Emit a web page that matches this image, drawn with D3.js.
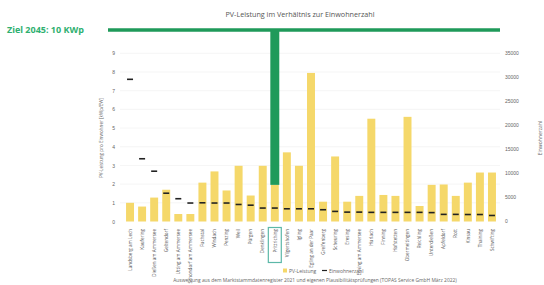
<!DOCTYPE html>
<html><head><meta charset="utf-8">
<script src="https://cdn.jsdelivr.net/npm/d3@7"></script>
<style>body{margin:0;background:#fff}svg{display:block;font-family:"Open Sans",Arial,sans-serif}</style>
</head><body><svg id="c" width="544" height="285"></svg>
<script>
const categories = ["Landsberg am Lech","Kaufering","Dießen am Ammersee","Geltendorf","Utting am Ammersee","Schondorf am Ammersee","Fuchstal","Windach","Penzing","Weil","Pürgen","Denklingen","Prittriching","Vilgertshofen","Igling","Egling an der Paar","Greifenberg","Scheuring","Eresing","Eching am Ammersee","Hurlach","Finning","Hofstetten","Obermeitingen","Reichling","Unterdießen","Apfeldorf","Rott","Kinsau","Thaining","Schwifting"];
const pvPerCapita = [1.0,0.8,1.28,1.7,0.4,0.4,2.08,2.68,1.66,2.98,1.39,2.98,1.96,3.7,2.98,7.95,1.06,3.48,1.06,1.37,5.5,1.42,1.37,5.6,0.83,1.96,1.98,1.37,2.08,2.62,2.62];
const population = [29500,12900,10300,5700,4550,3650,3700,3650,3650,3350,3200,2600,2600,2450,2450,2450,2250,1900,1750,1750,1700,1700,1700,1700,1700,1650,1280,1280,1250,1250,1050];
const leftTicks = [0,1,2,3,4,5,6,7,8,9];
const rightTicks = [0,5000,10000,15000,20000,25000,30000,35000];
const highlightIndex = 12;
const goalLabel = "Ziel 2045: 10 KWp";
const goalValue = 10;

const svg = d3.select("#c");
const green = "#1f9a5a", yellow = "#f5d86a";
const x = d3.scaleBand().domain(categories).range([124,498]).paddingInner(0.34).paddingOuter(0.17);
const yL = d3.scaleLinear().domain([0,9]).range([221.5,53.3]);
const yR = d3.scaleLinear().domain([0,35000]).range([220.5,53]);

svg.append("text").attr("x",300).attr("y",17).attr("text-anchor","middle").attr("font-size",7.2).attr("fill","#555").text("PV-Leistung im Verhältnis zur Einwohnerzahl");

// gridlines
svg.append("g").selectAll("line").data(leftTicks.slice(1)).join("line")
  .attr("x1",120).attr("x2",500).attr("y1",d=>yL(d)).attr("y2",d=>yL(d)).attr("stroke","#eeeeee").attr("stroke-width",0.6);

// left axis
const la = svg.append("g").attr("transform","translate(117,0)").call(d3.axisLeft(yL).tickValues(leftTicks).tickSize(0).tickPadding(2));
la.select(".domain").remove();
la.selectAll("text").attr("font-size",5).attr("fill","#666");
const ra = svg.append("g").attr("transform","translate(503,0)").call(d3.axisRight(yR).tickValues(rightTicks).tickSize(0).tickPadding(2).tickFormat(d3.format("d")));
ra.select(".domain").remove();
ra.selectAll("text").attr("font-size",5).attr("fill","#666");

svg.append("text").attr("transform","translate(103,138) rotate(-90)").attr("text-anchor","middle").attr("font-size",4.6).attr("fill","#666").text("PV-Leistung pro Einwohner [kWp/EW]");
svg.append("text").attr("transform","translate(542,138) rotate(-90)").attr("text-anchor","middle").attr("font-size",5).attr("fill","#666").text("Einwohnerzahl");

// bars
svg.append("g").selectAll("rect").data(categories).join("rect")
  .attr("x",d=>x(d)).attr("width",x.bandwidth())
  .attr("y",(d,i)=>yL(pvPerCapita[i])).attr("height",(d,i)=>yL(0)-yL(pvPerCapita[i]))
  .attr("fill",yellow);

// population dashes
svg.append("g").selectAll("line").data(categories).join("line")
  .attr("x1",d=>x(d)+x.bandwidth()/2-3).attr("x2",d=>x(d)+x.bandwidth()/2+3)
  .attr("y1",(d,i)=>yR(population[i])).attr("y2",(d,i)=>yR(population[i]))
  .attr("stroke","#222").attr("stroke-width",1.6);

// category labels
svg.append("g").selectAll("text").data(categories).join("text")
  .attr("transform",d=>`translate(${x(d)+x.bandwidth()/2+1.7},229) rotate(-90)`)
  .attr("text-anchor","end").attr("font-size",4.6).attr("fill","#555").text(d=>d);

// highlight box
const hc = categories[highlightIndex];
svg.append("rect").attr("x",x(hc)-2.5).attr("y",227.5).attr("width",x.bandwidth()+5).attr("height",35)
  .attr("fill","none").attr("stroke","#5cb8a8").attr("stroke-width",1.2);

// goal annotation
const gy = yL(goalValue+0.25);
svg.append("line").attr("x1",108).attr("x2",500).attr("y1",gy).attr("y2",gy).attr("stroke",green).attr("stroke-width",3.5);
svg.append("rect").attr("x",x(hc)-0.5).attr("y",gy).attr("width",x.bandwidth()+1).attr("height",yL(pvPerCapita[highlightIndex])-gy).attr("fill",green);
svg.append("text").attr("x",7).attr("y",gy+3.2).attr("font-size",9).attr("font-weight","bold").attr("fill","#2fb070").text(goalLabel);

// legend
svg.append("rect").attr("x",283).attr("y",268.5).attr("width",4).attr("height",4).attr("fill",yellow);
svg.append("text").attr("x",289).attr("y",272.5).attr("font-size",5).attr("fill","#666").text("PV-Leistung");
svg.append("line").attr("x1",322).attr("x2",327).attr("y1",270.5).attr("y2",270.5).attr("stroke","#222").attr("stroke-width",1.2);
svg.append("text").attr("x",329).attr("y",272.5).attr("font-size",5).attr("fill","#666").text("Einwohnerzahl");

svg.append("text").attr("x",315).attr("y",282).attr("text-anchor","middle").attr("font-size",4.9).attr("fill","#666")
  .text("Auswertung aus dem Marktstammdatenregister 2021 und eigenen Plausibilitätsprüfungen (TOPAS Service GmbH März 2022)");
</script></body></html>
